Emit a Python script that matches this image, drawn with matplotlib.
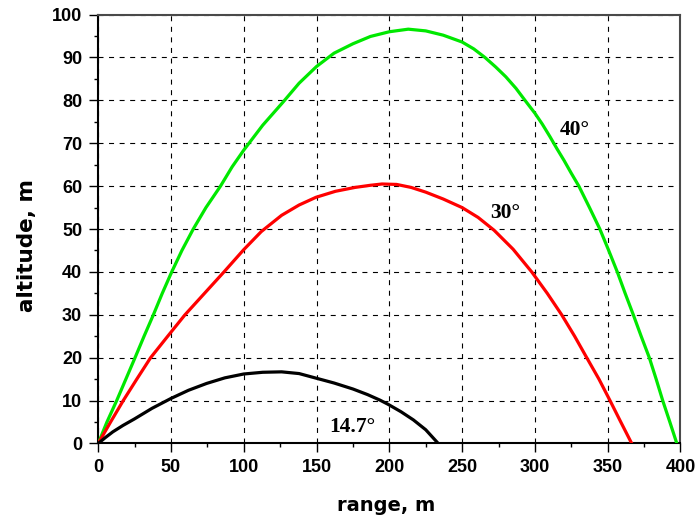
import matplotlib
matplotlib.use("Agg")
import matplotlib.pyplot as plt
from matplotlib.ticker import MultipleLocator

# Trajectories: range (m) vs altitude (m) for three launch angles
x_40 = [0, 6, 12.7, 19, 25.3, 31.5, 37.9, 44, 50.5, 57.5, 65.3, 74, 84, 92,
        100, 113, 127, 138, 150, 162, 175, 187, 200, 213, 225, 237, 250, 258,
        265.7, 273, 280, 287, 293.2, 300, 305, 310.4, 315, 320, 325, 330.2,
        337.5, 344.6, 350.7, 356.6, 362, 367.6, 373, 378.6, 383.3, 387.8,
        392.7, 397.5]
y_40 = [0, 5, 10, 15, 20, 25, 30, 35, 40, 45, 50, 55, 60, 64.5,
        68.4, 74.2, 79.6, 84.0, 87.9, 91.0, 93.2, 94.9, 96.0, 96.6, 96.2, 95.2, 93.6, 92,
        90, 87.8, 85.5, 82.8, 80, 77, 74.5, 71.5, 68.8, 66, 63, 60,
        55, 50, 45, 40, 35, 30, 25, 20, 15, 10,
        5, 0]

x_30 = [0, 8.5, 17.2, 26.5, 36, 47.5, 59.6, 73, 86.4, 100, 112, 126, 138,
        149.6, 163, 176.4, 187, 195, 205, 215, 225, 237, 250, 261, 272, 285,
        297.8, 308.5, 318.4, 327.3, 335.6, 344, 351.6, 359, 366.5]
y_30 = [0, 5, 10, 15, 20, 24.9, 30, 35, 40, 45.2, 49.4, 53.2, 55.6,
        57.4, 58.8, 59.7, 60.2, 60.5, 60.4, 59.7, 58.6, 57, 55, 52.7, 49.7, 45.3,
        40, 35, 30, 25, 20, 15, 10, 5, 0]

x_147 = [0, 5, 10, 17, 24.8, 37, 50, 62, 74.5, 87, 100, 113, 126, 138, 150,
         162, 175, 185, 193.6, 199.3, 208, 216.5, 225, 233.6]
y_147 = [0, 1.4, 2.7, 4.2, 5.7, 8.2, 10.5, 12.4, 14.0, 15.3, 16.2, 16.6, 16.7,
         16.3, 15.2, 14.1, 12.7, 11.4, 10.1, 9.1, 7.4, 5.5, 3.2, 0]

angle_labels = ["40°", "30°", "14.7°"]
label_pos = [(317, 72), (269, 52.6), (159, 2.7)]

fig = plt.figure(figsize=(6.96, 5.21), dpi=100)
ax = fig.add_axes([0.1411, 0.1488, 0.8366, 0.8232])

ax.plot(x_40, y_40, color="#00e800", lw=2.3, solid_joinstyle="round", zorder=3)
ax.plot(x_30, y_30, color="#ff0000", lw=2.3, solid_joinstyle="round", zorder=3)
ax.plot(x_147, y_147, color="black", lw=2.3, solid_joinstyle="round", zorder=3)

for txt, (tx, ty) in zip(angle_labels, label_pos):
    ax.text(tx, ty, txt, family="Liberation Serif", fontweight="bold",
            fontsize=15.5, ha="left", va="baseline", zorder=4)

ax.set_xlim(0, 400)
ax.set_ylim(0, 100)
ax.xaxis.set_major_locator(MultipleLocator(50))
ax.xaxis.set_minor_locator(MultipleLocator(25))
ax.yaxis.set_major_locator(MultipleLocator(10))
ax.yaxis.set_minor_locator(MultipleLocator(5))

ax.grid(which="major", color="black", linestyle=(0, (4.5, 5)), linewidth=0.8)
ax.set_axisbelow(True)

ax.tick_params(which="major", direction="out", length=6.5, width=1.0,
               pad=5, top=False, right=False)
ax.tick_params(which="minor", direction="out", length=2.6, width=1.0,
               top=False, right=False)
for lab in ax.get_xticklabels() + ax.get_yticklabels():
    lab.set_fontfamily("Liberation Sans")
    lab.set_fontweight("bold")
    lab.set_fontsize(13)

for side in ("left", "bottom"):
    ax.spines[side].set_color("black")
    ax.spines[side].set_linewidth(1.5)
for side in ("top", "right"):
    ax.spines[side].set_color("#4a4a4a")
    ax.spines[side].set_linewidth(1.5)

ax.set_xlabel("range, m", family="DejaVu Sans", fontweight="bold", fontsize=14)
ax.set_ylabel("altitude, m", family="DejaVu Sans", fontweight="bold", fontsize=15.5)
ax.xaxis.set_label_coords(0.494, -0.122)
ax.yaxis.set_label_coords(-0.105, 0.462)

fig.savefig("out.png", dpi=100, facecolor="white")
